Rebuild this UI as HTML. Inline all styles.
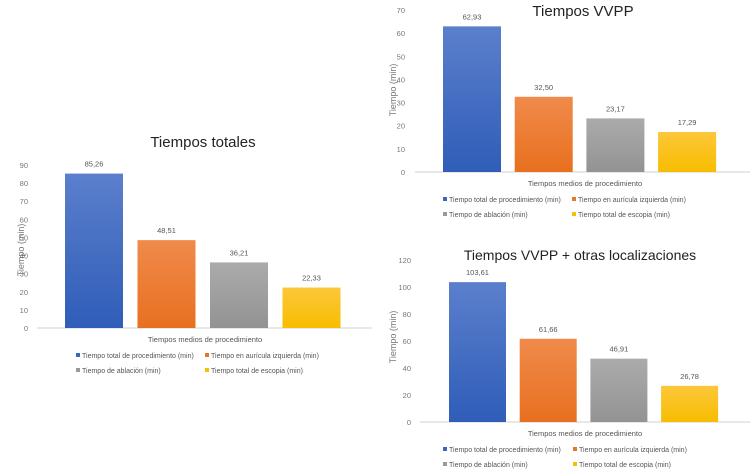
<!DOCTYPE html>
<html><head><meta charset="utf-8"><style>
html,body{margin:0;padding:0;background:#fff;width:750px;height:469px;overflow:hidden}
svg{display:block;font-family:"Liberation Sans",sans-serif}
</style></head><body>
<svg id="s" width="750" height="469" viewBox="0 0 750 469">
<defs>
<linearGradient id="gb" x1="0" y1="0" x2="0" y2="1"><stop offset="0" stop-color="#5b7fcc"/><stop offset="1" stop-color="#2f5db8"/></linearGradient>
<linearGradient id="go" x1="0" y1="0" x2="0" y2="1"><stop offset="0" stop-color="#f08a4b"/><stop offset="1" stop-color="#e8701f"/></linearGradient>
<linearGradient id="gg" x1="0" y1="0" x2="0" y2="1"><stop offset="0" stop-color="#ababab"/><stop offset="1" stop-color="#939393"/></linearGradient>
<linearGradient id="gy" x1="0" y1="0" x2="0" y2="1"><stop offset="0" stop-color="#fdc73a"/><stop offset="1" stop-color="#f7bd00"/></linearGradient>
</defs>
</svg>
<script>
const categories = ["Tiempo total de procedimiento (min)","Tiempo en aurícula izquierda (min)","Tiempo de ablación (min)","Tiempo total de escopia (min)"];
const totalesValues = [85.26, 48.51, 36.21, 22.33];
const totalesTicks = [0,10,20,30,40,50,60,70,80,90];
const vvppValues = [62.93, 32.50, 23.17, 17.29];
const vvppTicks = [0,10,20,30,40,50,60,70];
const otrasValues = [103.61, 61.66, 46.91, 26.78];
const otrasTicks = [0,20,40,60,80,100,120];
const fills = ["url(#gb)","url(#go)","url(#gg)","url(#gy)"];
const legendColors = ["#3a66c0","#e87530","#9a9a9a","#f5c000"];
const NS = "http://www.w3.org/2000/svg";
const svg = document.getElementById("s");
function mk(tag, attrs, parent, txt){
  const e = document.createElementNS(NS, tag);
  for (const k in attrs) e.setAttribute(k, attrs[k]);
  if (txt !== undefined) e.textContent = txt;
  (parent || svg).appendChild(e);
  return e;
}
function fmt(v){ return v.toFixed(2).replace(".", ","); }
function chart(cfg, values, ticks){
  const g = mk("g", {});
  
  
  const maxT = ticks[ticks.length-1];
  const y = v => cfg.y0 - (v / maxT) * (cfg.y0 - cfg.yTop);
  const x = i => cfg.barX0 + i * cfg.step;
  ticks.forEach(t => {
    const tl = mk("text", {x: cfg.tickX, y: y(t) + 3, "font-size": 7.5, fill: "#777", "text-anchor": "end"}, g, String(t));
    
    
  });
  const ax = mk("line", {x1: cfg.axX1, x2: cfg.axX2, y1: cfg.y0, y2: cfg.y0, stroke: "#d0d0d0", "stroke-width": 1}, g);
  
  
  values.forEach((v, i) => {
    const b = mk("rect", {x: x(i), y: y(v), width: cfg.barW, height: cfg.y0 - y(v), fill: fills[i]}, g);
    
    
    const l = mk("text", {x: x(i) + cfg.barW/2, y: y(v) - 7, "font-size": 7.5, fill: "#555", "text-anchor": "middle"}, g, fmt(v));
    
    
  });
  const t = mk("text", {x: cfg.titleX, y: cfg.titleY, "font-size": cfg.titleSize, fill: "#222", "text-anchor": "middle"}, g, cfg.title);
  
  
  const yt = mk("text", {x: 0, y: 0, "font-size": 9, fill: "#777", "text-anchor": "middle", transform: `translate(${cfg.yTitleX},${cfg.yTitleY}) rotate(-90)`}, g, "Tiempo (min)");
  
  
  const xt = mk("text", {x: cfg.xTitleX, y: cfg.y0 + 14, "font-size": 7.5, fill: "#555", "text-anchor": "middle"}, g, "Tiempos medios de procedimiento");
  
  
  categories.forEach((c, i) => {
    const lx = cfg.legX[i % 2], ly = cfg.y0 + 30 + Math.floor(i/2) * 15;
    const sw = mk("rect", {x: lx, y: ly - 5, width: 4, height: 4, fill: legendColors[i]}, g);
    
    
    const lt = mk("text", {x: lx + 6, y: ly, "font-size": 7, fill: "#555"}, g, c);
    
    
  });
}
chart({name:"chart-tiempos-totales", title:"Tiempos totales", titleSize:15, y0:328, yTop:165, tickX:28, axX1:37, axX2:372, barX0:65, step:72.5, barW:58, titleX:203, titleY:147, yTitleX:24, yTitleY:250, xTitleX:205, legX:[76,205]}, totalesValues, totalesTicks);
chart({name:"chart-tiempos-vvpp", title:"Tiempos VVPP", titleSize:15, y0:172, yTop:10, tickX:405, axX1:415, axX2:750, barX0:443, step:71.7, barW:58, titleX:583, titleY:16, yTitleX:396, yTitleY:90, xTitleX:585, legX:[443,572]}, vvppValues, vvppTicks);
chart({name:"chart-tiempos-vvpp-otras", title:"Tiempos VVPP + otras localizaciones", titleSize:14, y0:422, yTop:260, tickX:411, axX1:420, axX2:750, barX0:449, step:70.7, barW:57, titleX:580, titleY:260, yTitleX:396, yTitleY:337, xTitleX:585, legX:[443,573]}, otrasValues, otrasTicks);
</script>
</body></html>
